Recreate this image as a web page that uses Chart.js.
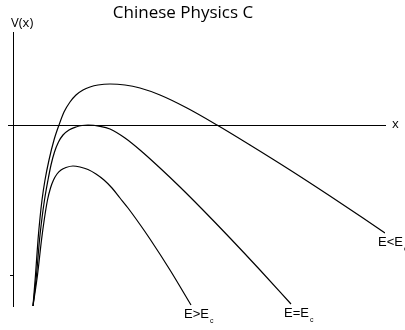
<!DOCTYPE html>
<html>
<head>
<meta charset="utf-8">
<title>Chinese Physics C</title>
<script src="https://cdn.jsdelivr.net/npm/chart.js@4/dist/chart.umd.min.js"></script>
<style>
    html, body { margin: 0; padding: 0; background: #fff; }
    #wrap { width: 405px; height: 330px; position: relative; }
</style>
</head>
<body>
<div id="wrap"><canvas id="chart_0"></canvas></div>
<script>
// Potential curves V(x) for three energies, x along the axis, V in arbitrary units
const belowX = [0.5, 0.5625, 0.625, 0.675, 0.725, 0.8, 0.9, 1.025, 1.15, 1.275, 1.425, 1.575, 1.75, 1.925, 2.125,
    2.425, 2.8, 3.175, 3.675, 4.35, 5.1, 5.925, 6.925, 7.925, 8.75, 9.3];
const belowV = [-3.62, -3.0, -2.3, -1.86, -1.5, -1.1, -0.7, -0.3, 0, 0.26, 0.46, 0.6, 0.7, 0.76, 0.8,
    0.82, 0.8, 0.74, 0.6, 0.34, 0, -0.4, -0.9, -1.42, -1.86, -2.16];

const critX = [0.5, 0.5875, 0.6625, 0.725, 0.7875, 0.875, 0.95, 1.0375, 1.1375, 1.25, 1.4, 1.575, 1.725, 1.875,
    2.175, 2.425, 2.8, 3.175, 3.675, 4.175, 4.725, 5.425, 6.175, 6.95];
const critV = [-3.62, -3.0, -2.3, -1.86, -1.5, -1.1, -0.8, -0.54, -0.34, -0.2, -0.1, -0.04, -0.01, 0,
    -0.026, -0.08, -0.26, -0.5, -0.86, -1.24, -1.68, -2.26, -2.9, -3.58];

const aboveX = [0.5, 0.6125, 0.7125, 0.7875, 0.8625, 0.9375, 1.0125, 1.1, 1.2, 1.325, 1.5,
    1.675, 1.875, 2.075, 2.275, 2.475, 2.675, 2.875, 3.175, 3.425, 3.925, 4.45];
const aboveV = [-3.62, -3.0, -2.3, -1.86, -1.5, -1.26, -1.1, -0.98, -0.9, -0.85, -0.82,
    -0.84, -0.89, -0.98, -1.1, -1.26, -1.46, -1.66, -1.99, -2.28, -2.9, -3.6];

// label parts: relation sign between E and E_c
const curveSigns = ['<', '=', '>'];
const yTicks = [-3];

const titleText = 'Chinese Physics C';
const yAxisLabel = 'V(x)';
const xAxisLabel = 'x';

function toPoints(xs, vs) {
    return xs.map((x, i) => ({ x: x, y: vs[i] }));
}

// Title, axis names and the E ? E_c tags at the end of each curve
const figureText = {
    id: 'figureText',
    afterDraw(chart) {
        const ctx = chart.ctx;
        ctx.save();
        ctx.fillStyle = '#000';
        ctx.textBaseline = 'alphabetic';

        ctx.font = '17px "Open Sans"';
        ctx.textAlign = 'center';
        ctx.fillText(titleText, 183, 18);

        ctx.textAlign = 'left';
        ctx.font = '13px "Open Sans"';
        ctx.fillText(yAxisLabel, 11, 27);
        ctx.fillText(xAxisLabel, 392, 128);

        chart.data.datasets.forEach((ds, i) => {
            const meta = chart.getDatasetMeta(i);
            const end = meta.data[meta.data.length - 1];
            const x0 = end.x - 7;
            const y0 = end.y + 13;
            ctx.font = '13px "Liberation Sans"';
            const main = 'E' + curveSigns[i] + 'E';
            ctx.fillText(main, x0, y0);
            const w = ctx.measureText(main).width;
            ctx.font = '7px "Liberation Sans"';
            ctx.fillText('c', x0 + w + 1, y0 + 5);
        });
        ctx.restore();
    }
};

function curveDataset(label, points) {
    return {
        label: label,
        data: points,
        borderColor: '#000',
        borderWidth: 1.2,
        pointRadius: 0,
        fill: false,
        cubicInterpolationMode: 'monotone'
    };
}

function createChart0() {
    const ctx = document.getElementById('chart_0');

    new Chart(ctx.getContext('2d'), {
        type: 'line',
        data: {
            datasets: [
                curveDataset('E<Ec', toPoints(belowX, belowV)),
                curveDataset('E=Ec', toPoints(critX, critV)),
                curveDataset('E>Ec', toPoints(aboveX, aboveV))
            ]
        },
        options: {
            responsive: true,
            maintainAspectRatio: false,
            animation: false,
            layout: { padding: { left: 8, top: 32, right: 20, bottom: 24 } },
            plugins: {
                legend: { display: false },
                title: { display: false },
                tooltip: { enabled: false }
            },
            scales: {
                x: {
                    type: 'linear',
                    min: -0.125,
                    max: 9.3,
                    position: { y: 0 },
                    grid: { display: false },
                    ticks: { display: false },
                    border: { color: '#000', width: 1 }
                },
                y: {
                    type: 'linear',
                    min: -3.62,
                    max: 1.86,
                    position: { x: 0 },
                    afterBuildTicks: (axis) => {
                        axis.ticks = yTicks.map(v => ({ value: v }));
                    },
                    grid: {
                        drawOnChartArea: false,
                        drawTicks: true,
                        tickLength: 3,
                        color: '#000',
                        tickColor: '#000'
                    },
                    ticks: { display: false },
                    border: { color: '#000', width: 1 }
                }
            }
        },
        plugins: [figureText]
    });
}

document.addEventListener('DOMContentLoaded', function() {
    createChart0();
});
</script>
</body>
</html>
